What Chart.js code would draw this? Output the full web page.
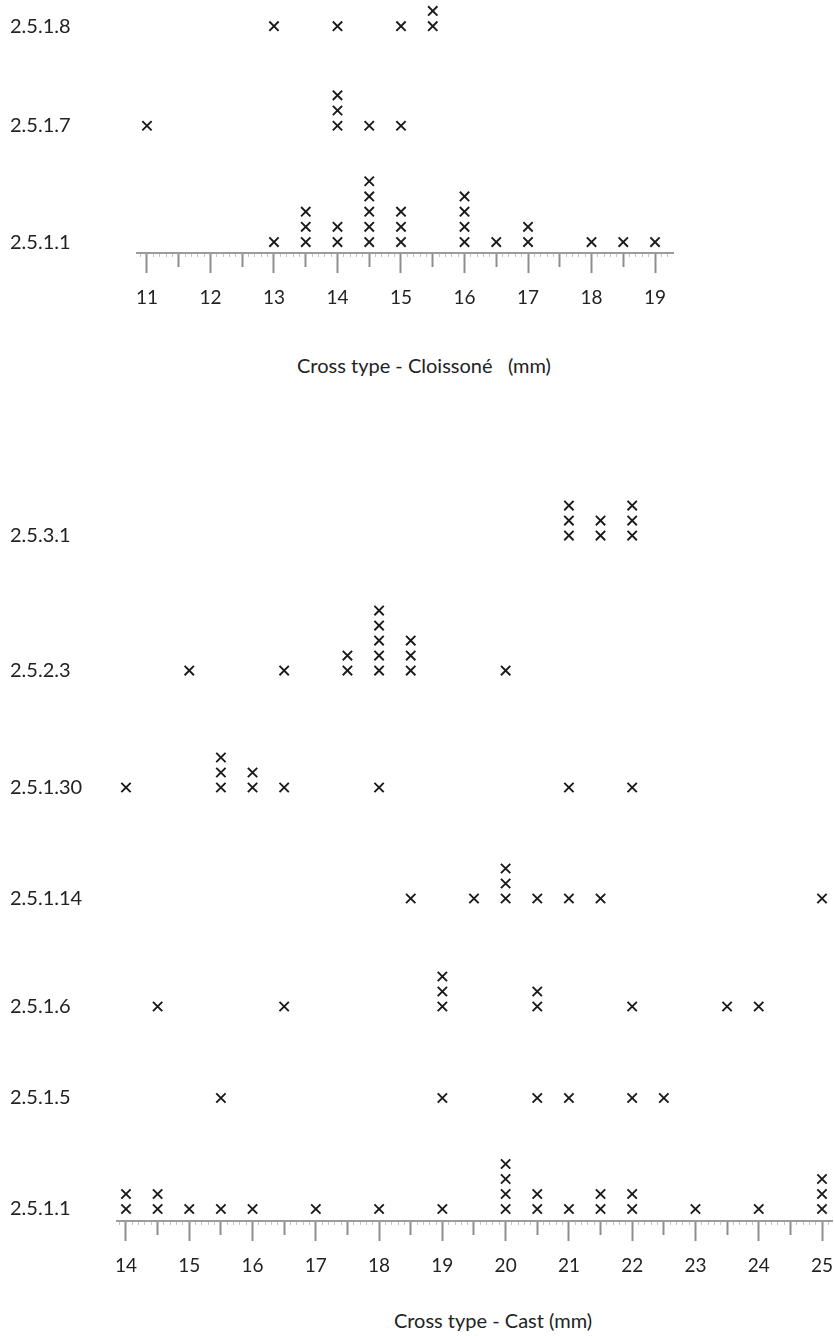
<!DOCTYPE html>
<html>
<head>
<meta charset="utf-8">
<title>Cross types - diameters</title>
<script src="https://cdn.jsdelivr.net/npm/chart.js@4/dist/chart.umd.min.js"></script>
<style>
	html, body { margin: 0; padding: 0; background: #fff; }
	body { position: relative; width: 834px; height: 1336px; overflow: hidden; font-family: 'Gill Sans', Lato, sans-serif; color: #222; }
	.chart-box { position: absolute; left: 0; width: 834px; }
	.caption { position: absolute; white-space: pre; font-size: 20px; color: #222; transform: translate(-50%, -50%); }
</style>
</head>
<body>
<div class="chart-box" style="top:0; height:320px;"><canvas id="cloisonne-chart"></canvas></div>
<div class="caption" style="left:424px; top:365px;">Cross type - Cloissoné   (mm)</div>
<div class="chart-box" style="top:470px; height:818px;"><canvas id="cast-chart"></canvas></div>
<div class="caption" style="left:493px; top:1320px;">Cross type - Cast (mm)</div>

<script>
// cloisonné crosses, diameter in mm, one x per object
const cloisonneTypes = ["2.5.1.8", "2.5.1.7", "2.5.1.1"];
const cloisonne_2_5_1_8 = [13, 14, 15, 15.5, 15.5];
const cloisonne_2_5_1_7 = [11, 14, 14, 14, 14.5, 15];
const cloisonne_2_5_1_1 = [13, 13.5, 13.5, 13.5, 14, 14, 14.5, 14.5, 14.5, 14.5, 14.5,
	15, 15, 15, 16, 16, 16, 16, 16.5, 17, 17, 18, 18.5, 19];
const cloisonneTickLabels = [11, 12, 13, 14, 15, 16, 17, 18, 19];

// cast crosses
const castTypes = ["2.5.3.1", "2.5.2.3", "2.5.1.30", "2.5.1.14", "2.5.1.6", "2.5.1.5", "2.5.1.1"];
const cast_2_5_3_1 = [21, 21, 21, 21.5, 21.5, 22, 22, 22];
const cast_2_5_2_3 = [15, 16.5, 17.5, 17.5, 18, 18, 18, 18, 18, 18.5, 18.5, 18.5, 20];
const cast_2_5_1_30 = [14, 15.5, 15.5, 15.5, 16, 16, 16.5, 18, 21, 22];
const cast_2_5_1_14 = [18.5, 19.5, 20, 20, 20, 20.5, 21, 21.5, 25];
const cast_2_5_1_6 = [14.5, 16.5, 19, 19, 19, 20.5, 20.5, 22, 23.5, 24];
const cast_2_5_1_5 = [15.5, 19, 20.5, 21, 22, 22.5];
const cast_2_5_1_1 = [14, 14, 14.5, 14.5, 15, 15.5, 16, 17, 18, 19, 20, 20, 20, 20,
	20.5, 20.5, 21, 21.5, 21.5, 22, 22, 23, 24, 25, 25, 25];
const castTickLabels = [14, 15, 16, 17, 18, 19, 20, 21, 22, 23, 24, 25];

// layout: where each row sits on the y scale (1 unit = one stacked cross)
const cloisonneRowPos = [14.2, 7.65, 0];
const castRowPos = [44.9, 35.9, 28.1, 20.7, 13.5, 7.4, 0];

const FONT = "'Gill Sans', Lato, sans-serif";
const INK = "#1a1a1a";

// repeated values pile up one above the other
function stackPoints(values, base)
{
	const seen = {};
	return values.map(v =>
	{
		const level = seen[v] || 0;
		seen[v] = level + 1;
		return { x: v, y: base + level };
	});
}

function tickKind(v)
{
	const tenths = Math.round(v * 10);
	if (tenths % 10 === 0) return "major";
	if (tenths % 5 === 0) return "half";
	return "minor";
}

// keep the plot area where the figure has it, labels may overhang
function noLabelPadding(scale)
{
	scale.paddingTop = 0;
	scale.paddingBottom = 0;
	scale.paddingLeft = 0;
	scale.paddingRight = 0;
}

function buildDotPlot(canvasId, cfg)
{
	const datasets = cfg.rows.map((values, i) => ({
		label: cfg.names[i],
		data: stackPoints(values, cfg.rowPos[i]),
		pointStyle: "crossRot",
		pointRadius: 6.6,
		pointHoverRadius: 6.6,
		pointBorderWidth: 1.9,
		borderColor: INK,
		backgroundColor: INK,
		showLine: false,
		clip: false
	}));

	return new Chart(document.getElementById(canvasId),
	{
		type: "scatter",
		data: { datasets },
		options:
		{
			responsive: true,
			maintainAspectRatio: false,
			animation: false,
			events: [],
			layout:
			{
				autoPadding: false,
				padding: { left: 10, right: cfg.padRight, top: 0, bottom: 0 }
			},
			plugins: { legend: { display: false }, tooltip: { enabled: false } },
			scales:
			{
				x:
				{
					type: "linear",
					min: cfg.xMin,
					max: cfg.xMax,
					afterBuildTicks: scale =>
					{
						const ticks = [];
						for (let t = Math.ceil(cfg.xMin * 10); t <= Math.floor(cfg.xMax * 10); t++)
							ticks.push({ value: t / 10 });
						scale.ticks = ticks;
					},
					afterFit: scale => { scale.height = 67; noLabelPadding(scale); },
					border: { color: "#9c9c9c", width: 2 },
					grid:
					{
						drawOnChartArea: false,
						tickLength: 20,
						tickColor: ctx => tickKind(ctx.tick.value) === "minor" ? "#c4c4c4" : "#8e8e8e",
						tickWidth: ctx => tickKind(ctx.tick.value) === "minor" ? 1 : 2,
						tickBorderDash: ctx =>
						{
							const k = tickKind(ctx.tick.value);
							if (k === "half") return [13, 40];
							if (k === "minor") return [3, 40];
							return [];
						}
					},
					ticks:
					{
						autoSkip: false,
						maxRotation: 0,
						padding: 13,
						color: "#222",
						font: { family: FONT, size: 19 },
						callback: v => cfg.tickLabels.includes(v) ? String(v) : ""
					}
				},
				y:
				{
					type: "linear",
					min: cfg.yMin,
					max: cfg.yMax,
					afterBuildTicks: scale => { scale.ticks = cfg.rowPos.map(v => ({ value: v })); },
					afterFit: scale => { scale.width = cfg.yWidth; noLabelPadding(scale); },
					border: { display: false },
					grid: { display: false },
					ticks:
					{
						autoSkip: false,
						crossAlign: "far",
						color: "#222",
						font: { family: FONT, size: 20 },
						callback: (v, i) => cfg.names[i]
					}
				}
			}
		}
	});
}

buildDotPlot("cloisonne-chart",
{
	names: cloisonneTypes,
	rows: [cloisonne_2_5_1_8, cloisonne_2_5_1_7, cloisonne_2_5_1_1],
	rowPos: cloisonneRowPos,
	tickLabels: cloisonneTickLabels,
	xMin: 10.843, xMax: 19.283,
	yMin: -0.72, yMax: 15.92,
	yWidth: 127, padRight: 161
});

buildDotPlot("cast-chart",
{
	names: castTypes,
	rows: [cast_2_5_3_1, cast_2_5_2_3, cast_2_5_1_30, cast_2_5_1_14, cast_2_5_1_6, cast_2_5_1_5, cast_2_5_1_1],
	rowPos: castRowPos,
	tickLabels: castTickLabels,
	xMin: 13.858, xMax: 25.158,
	yMin: -0.8, yMax: 49.27,
	yWidth: 107, padRight: 2
});
</script>
</body>
</html>
